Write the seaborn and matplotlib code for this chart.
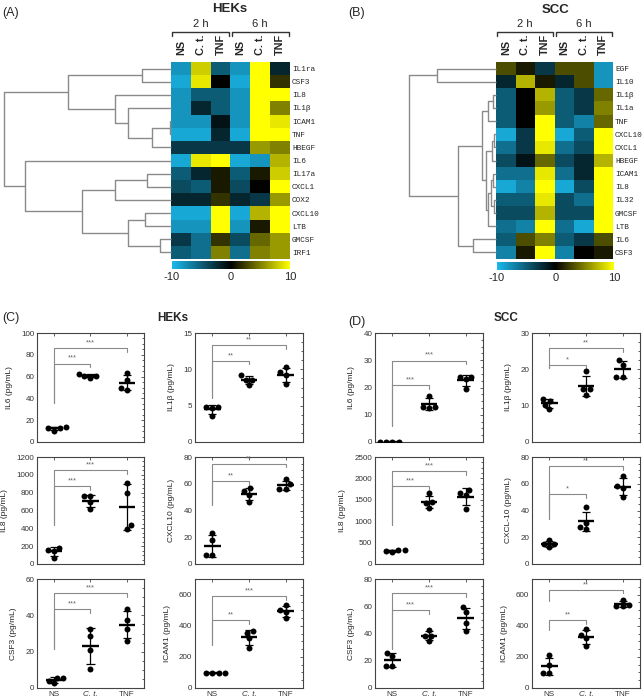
import numpy as np
import pandas as pd
import matplotlib
matplotlib.use('Agg')
import matplotlib.pyplot as plt
import seaborn as sns
from matplotlib.colors import LinearSegmentedColormap
from matplotlib.ticker import AutoMinorLocator, MultipleLocator

sns.set_style('white')
plt.rcParams['font.family'] = ['Liberation Sans', 'DejaVu Sans']
plt.rcParams['axes.unicode_minus'] = False

# ---------------- heatmap data ----------------
conditions = ['NS', 'C. t.', 'TNF', 'NS', 'C. t.', 'TNF']
times = ['2 h', '6 h']

hek_genes = ['IL1ra', 'CSF3', 'IL8', 'IL1β', 'ICAM1', 'TNF', 'HBEGF', 'IL6',
             'IL17a', 'CXCL1', 'COX2', 'CXCL10', 'LTB', 'GMCSF', 'IRF1']
hek_values = [[-8, 8, -5, -8, 10, -2],
              [-9, 9, 0, -9, 10, 2],
              [-8, -5, -5, -8, 10, 10],
              [-8, -2, -5, -8, 10, 5],
              [-8, -8, -1, -8, 10, 9],
              [-9, -9, -2, -9, 10, 10],
              [-3, -3, -3, -3, 6, 5],
              [-9, 9, 10, -9, -8, 7],
              [-5, -2, 1, -5, 1, 8],
              [-4, -5, 1, -4, 0, 10],
              [-2, -2, 2, -2, -3, 6],
              [-9, -9, 10, -9, 7, 10],
              [-8, -8, 10, -8, 1, 10],
              [-3, -6, 2, -4, 4, 6],
              [-5, -6, 5, -6, 5, 6]]
# merges: (child a, child b, height) ; leaves 0..14, new clusters 15..
hek_tree = [(4, 5, 1), (15, 6, 19), (3, 16, 43), (2, 17, 56), (0, 1, 29),
            (19, 18, 103), (8, 9, 24), (21, 10, 56), (11, 12, 26), (13, 14, 11),
            (23, 24, 43), (22, 25, 89), (7, 26, 146), (20, 27, 167)]

scc_genes = ['EGF', 'IL10', 'IL1β', 'IL1a', 'TNF', 'CXCL10', 'CXCL1', 'HBEGF',
             'ICAM1', 'IL8', 'IL32', 'GMCSF', 'LTB', 'IL6', 'CSF3']
scc_values = [[3, 1, -3, 3, 3, -8],
              [-2, 7, 1, -2, 3, -8],
              [-5, 0, 7, -5, -3, 4],
              [-5, 0, 6, -5, -3, 5],
              [-5, 0, 10, -5, -7, 4],
              [-9, -3, 10, -9, -5, 10],
              [-6, -3, 9, -6, -4, 10],
              [-4, -1, 4, -4, -2, 7],
              [-6, -6, 9, -6, -2, 10],
              [-9, -7, 10, -9, -4, 10],
              [-5, -5, 9, -4, -6, 10],
              [-4, -4, 7, -4, -4, 10],
              [-6, -7, 10, -6, -9, 10],
              [-5, 3, 5, -5, -3, 3],
              [-7, 1, 10, -7, 0, 1]]
scc_tree = [(0, 1, 58), (2, 3, 3), (16, 4, 8), (5, 6, 2), (18, 7, 4),
            (8, 9, 3), (10, 11, 2), (20, 21, 5), (22, 12, 8), (19, 23, 10),
            (17, 24, 14), (13, 14, 23), (25, 26, 38), (15, 27, 86)]

# ---------------- scatter data (pg/mL), per group NS / C. t. / TNF ----------------
groups = ['NS', 'C. t.', 'TNF']

hek_il6 = [[13, 10.5, 12.5, 14], [61, 59, 60.5, 62.5], [63, 57, 50, 48]]
hek_il1b = [[4.8, 4.7, 4.8, 3.6], [9.2, 8.6, 8.6, 7.9], [10.3, 9.6, 9.2, 8.0]]
hek_il8 = [[185, 160, 150, 70], [760, 760, 690, 620], [910, 800, 440, 390]]
hek_cxcl10 = [[23, 18, 6.5, 6.5], [54.5, 56.5, 51.5, 46.5], [63.5, 59.5, 56, 56]]
hek_csf3 = [[5.5, 2.5, 4, 5.5], [32.5, 28.5, 21, 10.5], [43.5, 37.5, 32.5, 26]]
hek_icam1 = [[98, 96, 97, 98], [355, 368, 318, 258], [535, 500, 490, 450]]

scc_il6 = [[0, 0, 0, 0], [17, 13, 13, 12.5], [24, 24, 23, 19.5]]
scc_il1b = [[11.8, 11.3, 10.3, 9], [19.5, 14.5, 14.5, 13], [22.7, 21.3, 18, 18]]
scc_il8 = [[330, 290, 300, 330], [1650, 1450, 1420, 1300], [1650, 1740, 1620, 1280]]
scc_cxcl10 = [[18, 15, 15, 12.5], [42.5, 31, 28, 26], [66, 58.5, 57, 50]]
scc_csf3 = [[26, 23.5, 16, 16], [42.5, 38.5, 38, 34.5], [59.5, 55.5, 48, 42]]
scc_icam1 = [[210, 148, 98, 98], [378, 342, 320, 268], [568, 535, 527, 526]]

# significance brackets: (target group, bracket level, left leg bottom, label)
hek_il6_sig = [(1, 72, 36, '***'), (2, 86, 36, '***')]
hek_il1b_sig = [(1, 11.2, 6.0, '**'), (2, 13.3, 6.0, '**')]
hek_il8_sig = [(1, 873, 440, '***'), (2, 1050, 440, '***')]
hek_cxcl10_sig = [(1, 62, 44, '**'), (2, 75, 44, '**')]
hek_csf3_sig = [(1, 43.5, 21.5, '***'), (2, 52.4, 21.5, '***')]
hek_icam1_sig = [(1, 435, 277, '**'), (2, 591, 277, '***')]

scc_il6_sig = [(1, 20.9, 5.9, '***'), (2, 29.9, 5.9, '***')]
scc_il1b_sig = [(1, 21.3, 20.3, '*'), (2, 25.9, 20.3, '**')]
scc_il8_sig = [(1, 1820, 907, '***'), (2, 2170, 907, '***')]
scc_cxcl10_sig = [(1, 52, 34, '*'), (2, 73.4, 34, '**')]
scc_csf3_sig = [(1, 57.4, 28.3, '***'), (2, 69.7, 28.3, '***')]
scc_icam1_sig = [(1, 435, 375, '**'), (2, 632, 558, '**')]

# ---------------- layout helpers ----------------
W, H = 642, 700
fig = plt.figure(figsize=(W / 100, H / 100), dpi=100)


def box(x0, y0, x1, y1):
    return [x0 / W, 1 - y1 / H, (x1 - x0) / W, (y1 - y0) / H]


cmap = LinearSegmentedColormap.from_list('cyan_black_yellow', ['#1ab9ec', '#000000', '#ffff00'])
line_grey = '#8a8a8a'


def draw_dendro(ax, tree, n):
    pos = {i: i + 0.5 for i in range(n)}
    hgt = {i: 0 for i in range(n)}
    for k, (a, b, d) in enumerate(tree):
        ax.plot([hgt[a], d, d, hgt[b]], [pos[a], pos[a], pos[b], pos[b]],
                color=line_grey, lw=1.0, clip_on=False, solid_capstyle='butt')
        pos[n + k] = (pos[a] + pos[b]) / 2
        hgt[n + k] = d
    ax.set_ylim(n, 0)
    ax.set_xlim(max(t[2] for t in tree), 0)
    ax.axis('off')


def draw_heat(genes, values, tree, hm, dn, cb):
    df = pd.DataFrame(values, index=genes, columns=range(6))
    ax = fig.add_axes(box(*hm))
    cax = fig.add_axes(box(*cb))
    sns.heatmap(df, ax=ax, cmap=cmap, vmin=-10, vmax=10, cbar_ax=cax,
                cbar_kws={'orientation': 'horizontal', 'ticks': [-10, 0, 10]})
    ax.yaxis.tick_right()
    ax.set_yticks(np.arange(len(genes)) + 0.5)
    ax.set_yticklabels(genes, rotation=0, fontsize=5.6, family=['Liberation Mono', 'DejaVu Sans Mono'])
    ax.xaxis.tick_top()
    ax.set_xticks(np.arange(6) + 0.5)
    ax.set_xticklabels(conditions, rotation=90, fontsize=7.8, fontweight='bold')
    ax.tick_params(axis='x', length=0, pad=5)
    ax.tick_params(axis='y', length=0, pad=1.5)
    ax.set_xlabel('')
    ax.set_ylabel('')
    for i, t in enumerate(times):
        x0, x1 = 3 * i + 0.06, 3 * i + 2.94
        ax.plot([x0, x0, x1, x1], [-2.0, -2.27, -2.27, -2.0], color='#333333', lw=1.0, clip_on=False)
        ax.text(3 * i + 1.5, -2.55, t, ha='center', va='bottom', fontsize=8)
    cax.tick_params(length=0, pad=2, labelsize=8)
    cbar = ax.collections[0].colorbar
    if cbar is not None:
        cbar.outline.set_visible(False)
    dax = fig.add_axes(box(*dn))
    draw_dendro(dax, tree, len(genes))


draw_heat(hek_genes, hek_values, hek_tree, (171, 62, 290, 259), (4, 62, 171, 259), (172, 261, 290, 269))
draw_heat(scc_genes, scc_values, scc_tree, (496, 62, 613, 259), (409, 62, 496, 259), (497, 262, 614, 270))

fig.text(11 / W, 1 - 13 / H, '(A)', ha='center', va='center', fontsize=9)
fig.text(230 / W, 1 - 9 / H, 'HEKs', ha='center', va='center', fontsize=9.5, fontweight='bold')
fig.text(357 / W, 1 - 13 / H, '(B)', ha='center', va='center', fontsize=9)
fig.text(556 / W, 1 - 10 / H, 'SCC', ha='center', va='center', fontsize=9.5, fontweight='bold')


# ---------------- scatter panels ----------------
def draw_scatter(ax, vals, ylab, ylim, ystep, sigs, show_x):
    df = pd.DataFrame({'grp': np.repeat(groups, [len(v) for v in vals]),
                       'val': np.concatenate(vals)})
    sns.swarmplot(data=df, x='grp', y='val', order=groups, color='black', size=4.3, ax=ax, zorder=5)
    for i, v in enumerate(vals):
        m, s = np.mean(v), np.std(v, ddof=1)
        ax.hlines(m, i - 0.23, i + 0.23, color='black', lw=1.7, zorder=4)
        ax.vlines(i, m - s, m + s, color='black', lw=0.9, zorder=4)
        ax.hlines([m - s, m + s], i - 0.11, i + 0.11, color='black', lw=0.9, zorder=4)
    rng = ylim[1] - ylim[0]
    for tgt, lev, bot, lab in sigs:
        ax.plot([0, 0, tgt, tgt], [bot, lev, lev, lev - 0.035 * rng], color=line_grey, lw=0.8, zorder=3)
        ax.text(tgt / 2, lev + 0.015 * rng, lab, ha='center', va='bottom', fontsize=5.3, color='#666666')
    ax.set_xlim(-0.47, 2.47)
    ax.set_ylim(*ylim)
    ax.yaxis.set_major_locator(MultipleLocator(ystep))
    ax.yaxis.set_minor_locator(AutoMinorLocator(4))
    ax.set_xlabel('')
    ax.set_ylabel(ylab, fontsize=6, labelpad=6, color='#222222')
    ax.tick_params(which='both', direction='in', top=True, right=True, width=0.6, colors='#444444',
                   labelsize=5.8, labelcolor='#333333', pad=2)
    ax.tick_params(which='major', length=2.5)
    ax.tick_params(which='minor', length=1.3)
    ax.set_xticks(range(3))
    if show_x:
        ax.set_xticklabels(groups)
        ax.get_xticklabels()[1].set_style('italic')
    else:
        ax.set_xticklabels([])
    for sp in ax.spines.values():
        sp.set_color('#444444')
        sp.set_linewidth(0.8)


cols_x = {'C': [(37, 144), (195, 303)], 'D': [(375, 483), (532, 640)]}
rows_y = [(333, 442), (457, 564), (579, 688)]

hek_panels = [[('IL6 (pg/mL)', hek_il6, (0, 100), 20, hek_il6_sig),
               ('IL1β (pg/mL)', hek_il1b, (0, 15), 5, hek_il1b_sig)],
              [('IL8 (pg/mL)', hek_il8, (0, 1200), 200, hek_il8_sig),
               ('CXCL10 (pg/mL)', hek_cxcl10, (0, 80), 20, hek_cxcl10_sig)],
              [('CSF3 (pg/mL)', hek_csf3, (0, 60), 20, hek_csf3_sig),
               ('ICAM1 (pg/mL)', hek_icam1, (0, 700), 200, hek_icam1_sig)]]
scc_panels = [[('IL6 (pg/mL)', scc_il6, (0, 40), 10, scc_il6_sig),
               ('IL1β (pg/mL)', scc_il1b, (0, 30), 10, scc_il1b_sig)],
              [('IL8 (pg/mL)', scc_il8, (0, 2500), 500, scc_il8_sig),
               ('CXCL-10 (pg/mL)', scc_cxcl10, (0, 80), 20, scc_cxcl10_sig)],
              [('CSF3 (pg/mL)', scc_csf3, (0, 80), 20, scc_csf3_sig),
               ('ICAM1 (pg/mL)', scc_icam1, (0, 700), 200, scc_icam1_sig)]]

for key, panels in [('C', hek_panels), ('D', scc_panels)]:
    for r, row in enumerate(panels):
        for c, (ylab, vals, ylim, ystep, sigs) in enumerate(row):
            x0, x1 = cols_x[key][c]
            y0, y1 = rows_y[r]
            ax = fig.add_axes(box(x0, y0, x1, y1))
            draw_scatter(ax, vals, ylab, ylim, ystep, sigs, r == 2)

fig.text(11 / W, 1 - 318 / H, '(C)', ha='center', va='center', fontsize=9)
fig.text(173 / W, 1 - 318 / H, 'HEKs', ha='center', va='center', fontsize=8.5, fontweight='bold')
fig.text(357 / W, 1 - 322 / H, '(D)', ha='center', va='center', fontsize=9)
fig.text(506 / W, 1 - 318 / H, 'SCC', ha='center', va='center', fontsize=8.5, fontweight='bold')

fig.savefig('out.png', dpi=100)
